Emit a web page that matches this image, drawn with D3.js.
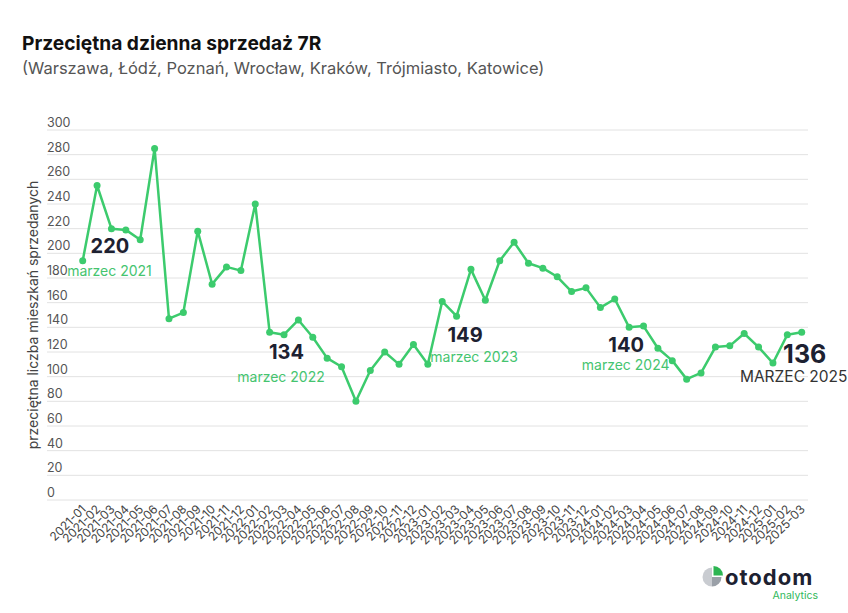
<!DOCTYPE html>
<html>
<head>
<meta charset="utf-8">
<script src="https://cdn.jsdelivr.net/npm/d3@7"></script>
<style>
  body { margin: 0; background: #fff; }
  svg { font-family: Inter, "Noto Sans", sans-serif; }
</style>
</head>
<body>
<div id="chart"></div>
<script>
var svgWidth = 848;
var svgHeight = 613;

// data
var months = [
  "2021-01","2021-02","2021-03","2021-04","2021-05","2021-06","2021-07","2021-08","2021-09","2021-10","2021-11","2021-12",
  "2022-01","2022-02","2022-03","2022-04","2022-05","2022-06","2022-07","2022-08","2022-09","2022-10","2022-11","2022-12",
  "2023-01","2023-02","2023-03","2023-04","2023-05","2023-06","2023-07","2023-08","2023-09","2023-10","2023-11","2023-12",
  "2024-01","2024-02","2024-03","2024-04","2024-05","2024-06","2024-07","2024-08","2024-09","2024-10","2024-11","2024-12",
  "2025-01","2025-02","2025-03"
];
var sales = [
  194, 255, 220, 219, 211, 285, 147, 152, 218, 175, 189, 186,
  240, 136, 134, 146, 132, 115, 108, 80, 105, 120, 110, 126,
  110, 161, 149, 187, 162, 194, 209, 192, 188, 181, 169, 172,
  156, 163, 140, 141, 123, 113, 98, 103, 124, 125, 135, 124,
  111, 134, 136
];
var yTicks = [0, 20, 40, 60, 80, 100, 120, 140, 160, 180, 200, 220, 240, 260, 280, 300];

var noteMonths = ["2021-03", "2022-03", "2023-03", "2024-03", "2025-03"];
var noteValues = [220, 134, 149, 140, 136];
var noteLabels = ["marzec 2021", "marzec 2022", "marzec 2023", "marzec 2024", "MARZEC 2025"];

// layout of the notes (offsets from the point)
var noteLayout = [
  { vdx: -1.5, vdy: 24, ldx: -2, ldy: 47, big: false },
  { vdx: 2.5, vdy: 24, ldx: -3, ldy: 47, big: false },
  { vdx: 8.5, vdy: 26, ldx: 17.5, ldy: 45.5, big: false },
  { vdx: -3, vdy: 24.5, ldx: -3.5, ldy: 43, big: false },
  { vdx: 3, vdy: 30.5, ldx: -8, ldy: 50, big: true }
];

var green = "#3ccb6d";
var dark = "#1d2131";

var svg = d3.select("#chart")
  .append("svg")
  .attr("width", svgWidth)
  .attr("height", svgHeight);

// titles
svg.append("text")
  .attr("x", 22).attr("y", 50)
  .attr("font-size", 19.2).attr("font-weight", 700)
  .attr("fill", "#111")
  .text("Przeciętna dzienna sprzedaż 7R");

svg.append("text")
  .attr("x", 22).attr("y", 73.5)
  .attr("font-size", 16.5)
  .attr("fill", "#555")
  .text("(Warszawa, Łódź, Poznań, Wrocław, Kraków, Trójmiasto, Katowice)");

var x = d3.scalePoint()
  .domain(months)
  .range([82.7, 801.7]);

var y = d3.scaleLinear()
  .domain([0, 300])
  .range([500, 130]);

// grid + y labels
var grid = svg.append("g");
grid.selectAll("line")
  .data(yTicks)
  .enter()
  .append("line")
  .attr("x1", 47).attr("x2", 808)
  .attr("y1", d => y(d)).attr("y2", d => y(d))
  .attr("stroke", "#e2e2e2")
  .attr("stroke-width", 1);

grid.selectAll("text")
  .data(yTicks)
  .enter()
  .append("text")
  .attr("x", 47)
  .attr("y", d => y(d) - 3)
  .attr("font-size", 12.5)
  .attr("fill", "#555")
  .text(d => d);

svg.append("text")
  .attr("transform", "translate(38,315) rotate(-90)")
  .attr("text-anchor", "middle")
  .attr("font-size", 14)
  .attr("fill", "#444")
  .text("przeciętna liczba mieszkań sprzedanych");

// x labels
svg.append("g")
  .selectAll("text")
  .data(months)
  .enter()
  .append("text")
  .attr("transform", d => "translate(" + (x(d) + 4) + ",510) rotate(-45)")
  .attr("text-anchor", "end")
  .attr("font-size", 12)
  .attr("fill", "#444")
  .text(d => d);

// line
var line = d3.line()
  .x((d, i) => x(months[i]))
  .y(d => y(d));

svg.append("path")
  .datum(sales)
  .attr("d", line)
  .attr("fill", "none")
  .attr("stroke", green)
  .attr("stroke-width", 2.5)
  .attr("stroke-linejoin", "round");

svg.append("g")
  .selectAll("circle")
  .data(sales)
  .enter()
  .append("circle")
  .attr("cx", (d, i) => x(months[i]))
  .attr("cy", d => y(d))
  .attr("r", 3.5)
  .attr("fill", green);

// notes
var notes = svg.append("g");
noteMonths.forEach(function (m, i) {
  var px = x(m), py = y(noteValues[i]), lay = noteLayout[i];
  notes.append("text")
    .attr("x", px + lay.vdx)
    .attr("y", py + lay.vdy)
    .attr("text-anchor", "middle")
    .attr("font-size", lay.big ? 25 : 20)
    .attr("font-weight", 700)
    .attr("fill", dark)
    .text(noteValues[i]);
  notes.append("text")
    .attr("x", px + lay.ldx)
    .attr("y", py + lay.ldy)
    .attr("text-anchor", "middle")
    .attr("font-size", lay.big ? 15.5 : 14)
    .attr("fill", lay.big ? "#333" : "#45c46f")
    .text(noteLabels[i]);
});

// logo
var logo = svg.append("g").attr("transform", "translate(712,577)");
var arc = d3.arc().innerRadius(0).outerRadius(9.5);
logo.append("path")
  .attr("d", arc({ startAngle: Math.PI, endAngle: 2 * Math.PI }))
  .attr("fill", "#c9ccd1");
logo.append("path")
  .attr("d", arc({ startAngle: Math.PI / 2, endAngle: Math.PI }))
  .attr("fill", "#9aa0a8");
logo.append("path")
  .attr("transform", "translate(1.5,-1.5)")
  .attr("d", arc({ startAngle: 0, endAngle: Math.PI / 2 }))
  .attr("fill", "#2db552");

svg.append("text")
  .attr("x", 725).attr("y", 584.5)
  .attr("font-size", 22).attr("font-weight", 700)
  .attr("letter-spacing", 1)
  .attr("fill", dark)
  .text("otodom");

svg.append("text")
  .attr("x", 818).attr("y", 599)
  .attr("text-anchor", "end")
  .attr("font-size", 10.5)
  .attr("fill", "#2fb85a")
  .text("Analytics");
</script>
</body>
</html>
